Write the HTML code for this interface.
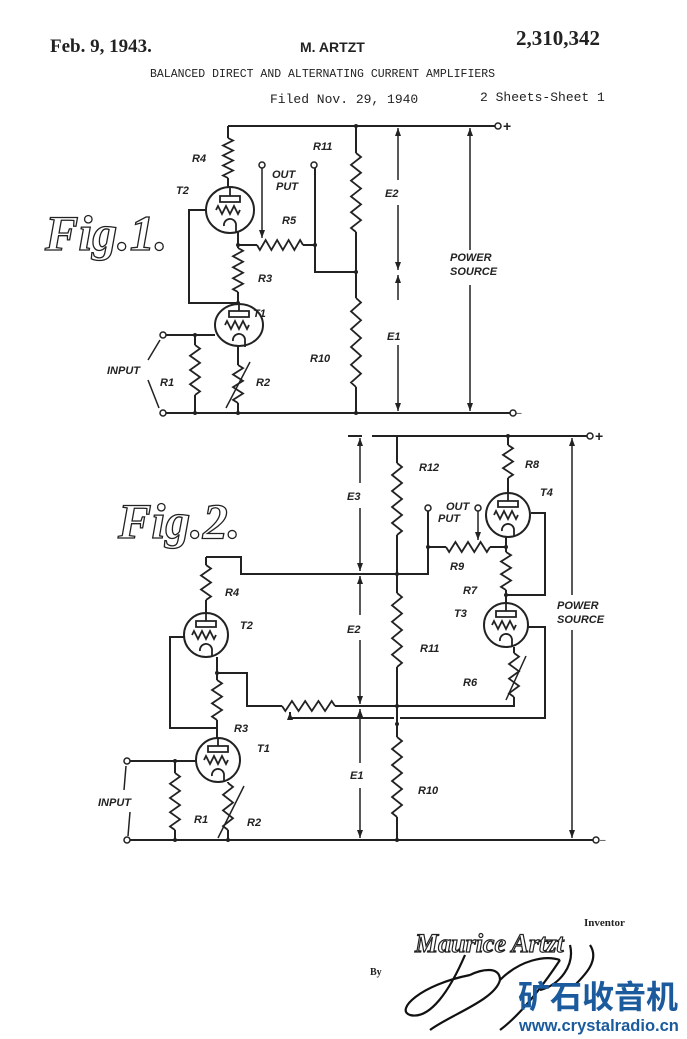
<!DOCTYPE html>
<html><head><meta charset="utf-8"><style>
html,body{margin:0;padding:0;background:#fff}
svg{display:block}
text{font-family:"Liberation Sans",sans-serif;fill:#222}
.l{font-size:11px;font-style:italic;font-weight:bold}
</style></head><body>
<svg id="s" width="687" height="1039" viewBox="0 0 687 1039" xmlns="http://www.w3.org/2000/svg">
<g fill="none" stroke="#222" stroke-width="2" id="w">
<path d="M228 126H497 M228 126V138 M228 178V190"/>
<path d="M238 232V245 M238 245H257 M303 245H315 M238 245V248 M238 292V305"/>
<path d="M206 210H189V303H238"/>
<path d="M315 168V272H356 M356 126V153 M356 232V298 M356 387V413"/>
<path d="M163 413H513 M163 335H215 M195 335V345 M195 395V413 M238 345V365 M238 403V413"/>
<path d="M348 436H362 M372 436H590 M397 436V463 M397 535V593 M397 667V737 M397 817V840"/>
<path d="M508 436V445 M508 478V493 M506 537V552 M506 590V603"/>
<path d="M531 513H545V595H506"/>
<path d="M206 557H241V574H428V547H446 M490 547H506 M206 557V565 M206 600V613 M428 511V547"/>
<path d="M528 627H545V718H400 M394 718H290V712"/>
<path d="M514 647V653 M514 697V706H335 M282 706H247V673H217V680 M217 657V673 M217 720V738"/>
<path d="M185 637H170V728H217"/>
<path d="M127 840H596 M127 761H196 M175 761V773 M175 830V840 M228 782V783 M228 830V840"/>
</g>
<g fill="#fff" stroke="#222" stroke-width="2">
<ellipse cx="230" cy="210" rx="24" ry="23"/><ellipse cx="239" cy="325" rx="24" ry="21"/>
<ellipse cx="508" cy="515" rx="22" ry="22"/><ellipse cx="506" cy="625" rx="22" ry="22"/>
<ellipse cx="206" cy="635" rx="22" ry="22"/><ellipse cx="218" cy="760" rx="22" ry="22"/>
</g>
<g id="tubes" fill="none" stroke="#222" stroke-width="1.8"></g>
<g id="z" fill="none" stroke="#222" stroke-width="1.8"></g>
<g fill="none" stroke="#222" stroke-width="1.5">
<path d="M398 128V180 M398 205V270 M398 275V300 M398 345V411"/>
<path d="M470 128V250 M470 285V411"/>
<path d="M360 438V483 M360 508V571 M360 576V615 M360 640V704 M360 709V763 M360 788V838"/>
<path d="M572 438V595 M572 630V838"/>
<path d="M262 165V238 M478 508V540 M290 712V720"/>
<path d="M226 408L250 362 M218 838L244 786 M506 700L526 656"/>
<path d="M148 360L160 340 M148 380L159 408 M124 790L126 766 M130 812L128 836"/>
</g>
<g fill="#222" id="ah"></g>
<g fill="#fff" stroke="#222" stroke-width="1.5">
<circle cx="498" cy="126" r="3"/><circle cx="513" cy="413" r="3"/><circle cx="163" cy="335" r="3"/><circle cx="163" cy="413" r="3"/>
<circle cx="262" cy="165" r="3"/><circle cx="314" cy="165" r="3"/>
<circle cx="590" cy="436" r="3"/><circle cx="596" cy="840" r="3"/><circle cx="127" cy="761" r="3"/><circle cx="127" cy="840" r="3"/>
<circle cx="428" cy="508" r="3"/><circle cx="478" cy="508" r="3"/>
</g>
<g fill="#222">
<circle cx="356" cy="126" r="2"/><circle cx="238" cy="245" r="2"/><circle cx="315" cy="245" r="2"/><circle cx="356" cy="272" r="2"/><circle cx="238" cy="303" r="2"/><circle cx="195" cy="335" r="2"/><circle cx="195" cy="413" r="2"/><circle cx="238" cy="413" r="2"/><circle cx="356" cy="413" r="2"/>
<circle cx="508" cy="436" r="2"/><circle cx="397" cy="574" r="2"/><circle cx="428" cy="547" r="2"/><circle cx="506" cy="547" r="2"/><circle cx="506" cy="595" r="2"/><circle cx="397" cy="706" r="2"/><circle cx="397" cy="724" r="2"/><circle cx="175" cy="761" r="2"/><circle cx="175" cy="840" r="2"/><circle cx="228" cy="840" r="2"/><circle cx="397" cy="840" r="2"/><circle cx="217" cy="673" r="2"/>
</g>
<text x="50" y="52" style="font-family:'Liberation Serif',serif;font-size:19px;font-weight:bold">Feb. 9, 1943.</text>
<text x="300" y="52" style="font-size:14px;font-weight:bold">M. ARTZT</text>
<text x="516" y="45" style="font-family:'Liberation Serif',serif;font-size:21px;font-weight:bold">2,310,342</text>
<text x="150" y="77" style="font-family:'Liberation Mono',monospace;font-size:11.5px">BALANCED DIRECT AND ALTERNATING CURRENT AMPLIFIERS</text>
<text x="270" y="103" style="font-family:'Liberation Mono',monospace;font-size:13px">Filed Nov. 29, 1940</text>
<text x="480" y="101" style="font-family:'Liberation Mono',monospace;font-size:13px">2 Sheets-Sheet 1</text>
<text x="45" y="250" style="font-family:'Liberation Serif',serif;font-size:50px;font-style:italic;font-weight:bold;fill:#fff;stroke:#222;stroke-width:1.3">Fig.1.</text>
<text x="118" y="538" style="font-family:'Liberation Serif',serif;font-size:50px;font-style:italic;font-weight:bold;fill:#fff;stroke:#222;stroke-width:1.3">Fig.2.</text>
<text class="l" x="192" y="162">R4</text><text class="l" x="176" y="194">T2</text>
<text class="l" x="272" y="178">OUT</text><text class="l" x="276" y="190">PUT</text>
<text class="l" x="282" y="224">R5</text><text class="l" x="313" y="150">R11</text>
<text class="l" x="385" y="197">E2</text><text class="l" x="387" y="340">E1</text>
<text class="l" x="258" y="282">R3</text><text class="l" x="253" y="317">T1</text>
<text class="l" x="107" y="374">INPUT</text><text class="l" x="160" y="386">R1</text><text class="l" x="256" y="386">R2</text>
<text class="l" x="310" y="362">R10</text>
<text class="l" x="450" y="261">POWER</text><text class="l" x="450" y="275">SOURCE</text>
<text class="l" x="419" y="471">R12</text><text class="l" x="525" y="468">R8</text><text class="l" x="540" y="496">T4</text>
<text class="l" x="446" y="510">OUT</text><text class="l" x="438" y="522">PUT</text>
<text class="l" x="450" y="570">R9</text><text class="l" x="463" y="594">R7</text>
<text class="l" x="454" y="617">T3</text><text class="l" x="225" y="596">R4</text><text class="l" x="240" y="629">T2</text>
<text class="l" x="420" y="652">R11</text><text class="l" x="463" y="686">R6</text>
<text class="l" x="234" y="732">R3</text><text class="l" x="257" y="752">T1</text>
<text class="l" x="418" y="794">R10</text><text class="l" x="194" y="823">R1</text><text class="l" x="247" y="826">R2</text>
<text class="l" x="98" y="806">INPUT</text>
<text class="l" x="347" y="500">E3</text><text class="l" x="347" y="633">E2</text><text class="l" x="350" y="779">E1</text>
<text class="l" x="557" y="609">POWER</text><text class="l" x="557" y="623">SOURCE</text>
<text x="503" y="131" style="font-size:14px;font-weight:bold">+</text><text x="516" y="416" style="font-size:10px">–</text>
<text x="595" y="441" style="font-size:14px;font-weight:bold">+</text><text x="600" y="843" style="font-size:10px">–</text>
<text x="584" y="926" style="font-family:'Liberation Serif',serif;font-size:11px;font-weight:bold">Inventor</text>
<text x="415" y="952" style="font-family:'Liberation Serif',serif;font-size:26px;font-style:italic;font-weight:bold;fill:#fff;stroke:#222;stroke-width:1.2">Maurice Artzt</text>
<text x="370" y="975" style="font-family:'Liberation Serif',serif;font-size:10px;font-weight:bold">By</text>
<path d="M465 955C450 990 430 1020 410 1015C395 1010 420 985 470 975M470 975C480 970 500 965 500 980C495 1000 450 1015 430 1030M500 980C520 960 545 955 560 960M560 960C540 990 520 1015 500 1030M570 945C575 965 560 985 540 990M590 945C600 960 585 975 575 985" fill="none" stroke="#111" stroke-width="2.2"/>
<text x="518" y="1008" style="font-family:'Noto Sans CJK SC',sans-serif;font-size:32px;font-weight:bold;fill:#1b5a9c">矿石收音机</text>
<text x="519" y="1031" style="font-size:16.5px;font-weight:bold;fill:#1b5a9c">www.crystalradio.cn</text>
</svg>
<script>
var NS="http://www.w3.org/2000/svg",z=document.getElementById('z'),t=document.getElementById('tubes'),ah=document.getElementById('ah');
function P(g,d){var p=document.createElementNS(NS,'path');p.setAttribute('d',d);g.appendChild(p);}
function V(x,a,b,n){n=n||8;var h=(b-a)/n,d='M'+x+' '+a;for(var i=0;i<n;i++)d+=' L'+(x+(i%2?-5:5))+' '+(a+h*(i+.5));d+=' L'+x+' '+b;P(z,d);}
function H(y,a,b,n){n=n||8;var h=(b-a)/n,d='M'+a+' '+y;for(var i=0;i<n;i++)d+=' L'+(a+h*(i+.5))+' '+(y+(i%2?-5:5));d+=' L'+b+' '+y;P(z,d);}
function T(cx,cy){P(t,'M'+(cx-10)+' '+(cy-14)+'h20v6h-20z');P(t,'M'+cx+' '+(cy-14)+'V'+(cy-22));
var d='M'+(cx-14)+' '+cy;for(var i=0;i<6;i++)d+=' L'+(cx-12+i*4)+' '+(cy+(i%2?4:-4));d+=' L'+(cx+10)+' '+cy;P(t,d);
P(t,'M'+(cx-6)+' '+(cy+16)+'A6 6 0 0 1 '+(cx+6)+' '+(cy+14)+'V'+(cy+22));}
V(228,138,178);H(245,257,303,8);V(238,248,292);V(356,153,232,10);V(356,298,387,10);V(195,345,395,7);V(238,365,403,6);
T(230,210);T(239,325);
V(397,463,535,9);V(508,445,478,5);H(547,446,490,7);V(506,552,590,6);V(514,653,697,6);H(706,282,335,8);V(217,680,720,6);
V(206,565,600,5);V(397,593,667,9);V(397,737,817,10);V(175,773,830,8);V(228,783,830,6);
T(508,515);T(506,625);T(206,635);T(218,760);
function A(x,y,dir){var d=dir=='u'?'M'+x+' '+y+'l-3 8h6z':'M'+x+' '+y+'l-3 -8h6z';P(ah,d);}
A(398,128,'u');A(398,270,'d');A(398,275,'u');A(398,411,'d');A(470,128,'u');A(470,411,'d');
A(360,438,'u');A(360,571,'d');A(360,576,'u');A(360,704,'d');A(360,709,'u');A(360,838,'d');A(572,438,'u');A(572,838,'d');
A(262,238,'d');A(478,540,'d');A(290,712,'u');
</script>
</body></html>
